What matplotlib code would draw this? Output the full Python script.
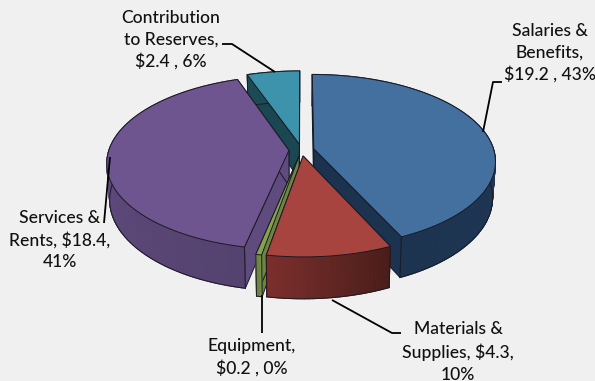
"""Exploded 3D pie of the budget split, projected by hand onto a flat axes."""

import matplotlib

matplotlib.use("Agg")
import matplotlib.pyplot as plt
import numpy as np
from matplotlib.collections import PolyCollection
from matplotlib.colors import to_rgb
from matplotlib.patches import Polygon

plt.rcParams["font.family"] = ["Lato", "DejaVu Sans"]

# budget slices, clockwise from twelve o'clock
names = ["Salaries", "Materials", "Equipment", "Services", "Reserves"]
amounts = [19.2, 4.3, 0.2, 18.4, 2.4]
top_colors = ["#44709f", "#a8443f", "#87a24f", "#6f5590", "#3d93ac"]
wall_start = ["#1f3a5a", "#4a1d1a", "#758f45", "#54426f", "#1c4a55"]
wall_end = ["#1d3450", "#7a2f2c", "#6d8540", "#6a5389", "#1c4a55"]
cut_colors = ["#1c3350", "#1c3350", "#6d8540", "#5f4b7d", "#1b4753"]

labels = [
    "Salaries &\nBenefits,\n$19.2 , 43%",
    "Materials &\nSupplies, $4.3,\n10%",
    "Equipment,\n$0.2 , 0%",
    "Services &\nRents, $18.4,\n41%",
    "Contribution\nto Reserves,\n$2.4 , 6%",
]
label_xy = [(550, 53), (458, 352), (252, 357), (60, 240), (171, 40)]
leaders = [
    [(502, 82), (493, 82), (483, 132)],
    [(401, 333), (392, 333), (332, 300)],
    [(262, 333), (262, 295)],
    [(104, 223), (110, 157)],
    [(222, 44), (232, 44), (275, 72)],
]

# projection of the pie disc onto the page
CX, CY = 301.5, 150.0
RX, RY = 180.0, 85.0
PERSP = 0.14
EXPLODE = 0.07
DEPTH = 35.6
BOTTOM_SHRINK = 0.985
EDGE = "#1a1a24"


def project(x, y, lower=False):
    w = 1 + PERSP * y
    sx = RX * x / w
    sy = -RY * y / w
    if lower:
        sx = sx * BOTTOM_SHRINK
        sy = sy + DEPTH / w
    return CX + sx, CY + sy


def draw_slice(ax, start, stop, top, c0, c1, cut, z):
    mid = np.radians((start + stop) / 2)
    ox, oy = EXPLODE * np.sin(mid), EXPLODE * np.cos(mid)
    t = np.radians(np.linspace(start, stop, max(int(stop - start), 3)))
    x = ox + np.sin(t)
    y = oy + np.cos(t)

    tx, ty = project(x, y)
    bx, by = project(x, y, lower=True)
    ax_t, ay_t = project(ox, oy)
    ax_b, ay_b = project(ox, oy, lower=True)

    # the two cut faces running in to the apex
    for i in (0, -1):
        ax.add_patch(Polygon(
            [(ax_t, ay_t), (tx[i], ty[i]), (bx[i], by[i]), (ax_b, ay_b)],
            facecolor=cut, edgecolor=EDGE, linewidth=0.7, zorder=z,
        ))

    # rim, shaded in thin strips from one end to the other
    c0, c1 = np.array(to_rgb(c0)), np.array(to_rgb(c1))
    strips, shades = [], []
    for i in range(len(t) - 1):
        strips.append([(tx[i], ty[i]), (tx[i + 1], ty[i + 1]), (bx[i + 1], by[i + 1]), (bx[i], by[i])])
        shades.append(c0 + (c1 - c0) * i / max(len(t) - 2, 1))
    ax.add_collection(PolyCollection(strips, facecolors=shades, edgecolors=shades, linewidths=0.8, zorder=z + 0.1))
    ax.plot(bx, by, color=EDGE, linewidth=0.7, zorder=z + 0.2)
    ax.plot([tx[0], bx[0]], [ty[0], by[0]], color=EDGE, linewidth=0.7, zorder=z + 0.2)
    ax.plot([tx[-1], bx[-1]], [ty[-1], by[-1]], color=EDGE, linewidth=0.7, zorder=z + 0.2)

    # top face
    verts = [(ax_t, ay_t)] + list(zip(tx, ty))
    ax.add_patch(Polygon(verts, facecolor=top, edgecolor=EDGE, linewidth=0.7, zorder=z + 0.3))


fig = plt.figure(figsize=(5.95, 3.81), dpi=100, facecolor="#f0f0f0")
ax = fig.add_axes([0, 0, 1, 1])
ax.set_xlim(0, 595)
ax.set_ylim(381, 0)
ax.axis("off")

sweep = np.array(amounts) / sum(amounts) * 360
stops = np.cumsum(sweep)
starts = stops - sweep

# back slices first so the nearer ones overlap them
for z, i in enumerate([4, 0, 3, 2, 1]):
    draw_slice(ax, starts[i], stops[i], top_colors[i], wall_start[i], wall_end[i], cut_colors[i], z + 1)

for points in leaders:
    xs, ys = zip(*points)
    ax.plot(xs, ys, color="black", linewidth=1.3, solid_capstyle="butt", zorder=10)

for text, (x, y) in zip(labels, label_xy):
    ax.text(x, y, text, ha="center", va="center", fontsize=12.6, color="#111111",
            linespacing=1.42, fontweight="medium", zorder=11)

fig.savefig("out.png", dpi=100, facecolor=fig.get_facecolor())
plt.close(fig)
